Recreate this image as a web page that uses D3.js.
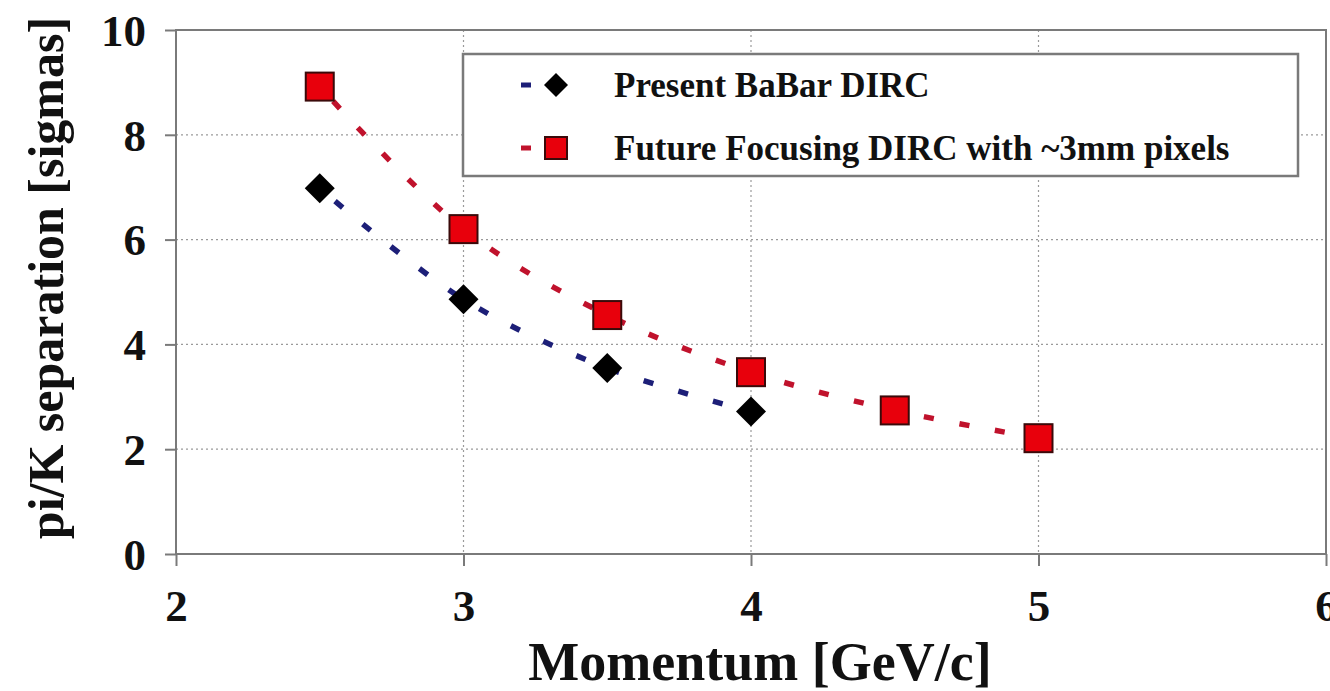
<!DOCTYPE html>
<html>
<head>
<meta charset="utf-8">
<script src="https://cdn.jsdelivr.net/npm/d3@7"></script>
<style>
  html, body { margin: 0; padding: 0; background: #fff; }
  svg { display: block; }
  text { font-family: "Liberation Serif", "Times New Roman", serif; font-weight: bold; fill: #111; }
</style>
</head>
<body>
<svg id="chart" width="1330" height="691"></svg>
<script>
// Momentum points (GeV/c) and pi/K separation (sigmas)
const presentMomentum = [2.5, 3, 3.5, 4];
const presentSeparation = [6.98, 4.86, 3.55, 2.72];
const futureMomentum = [2.5, 3, 3.5, 4, 4.5, 5];
const futureSeparation = [8.92, 6.2, 4.56, 3.47, 2.74, 2.21];

const xTicks = [2, 3, 4, 5, 6];
const yTicks = [0, 2, 4, 6, 8, 10];
const seriesNames = ["Present BaBar DIRC", "Future Focusing DIRC with ~3mm pixels"];

const svg = d3.select("#chart");
const plotLeft = 176, plotRight = 1326, plotTop = 30, plotBottom = 554;

const x = d3.scaleLinear().domain([2, 6]).range([plotLeft, plotRight]);
const y = d3.scaleLinear().domain([0, 10]).range([plotBottom, plotTop]);

// dotted grid
svg.append("g").selectAll("line")
  .data(yTicks.filter(d => d > 0 && d < 10)).join("line")
  .attr("x1", plotLeft).attr("x2", plotRight)
  .attr("y1", d => y(d)).attr("y2", d => y(d))
  .attr("stroke", "#9a9a9a").attr("stroke-width", 1.2)
  .attr("stroke-dasharray", "2 3");
svg.append("g").selectAll("line")
  .data(xTicks.filter(d => d > 2 && d < 6)).join("line")
  .attr("x1", d => x(d)).attr("x2", d => x(d))
  .attr("y1", plotTop).attr("y2", plotBottom)
  .attr("stroke", "#9a9a9a").attr("stroke-width", 1.2)
  .attr("stroke-dasharray", "2 3");

// plot frame
svg.append("rect")
  .attr("x", plotLeft).attr("y", plotTop)
  .attr("width", plotRight - plotLeft).attr("height", plotBottom - plotTop)
  .attr("fill", "none").attr("stroke", "#7a7a7a").attr("stroke-width", 2);

// axes
const yAxis = d3.axisLeft(y).tickValues(yTicks).tickSize(11).tickPadding(19).tickFormat(d3.format("d"));
const xAxis = d3.axisBottom(x).tickValues(xTicks).tickSize(12).tickPadding(24).tickFormat(d3.format("d"));

const gy = svg.append("g").attr("transform", `translate(${plotLeft},0)`).call(yAxis);
const gx = svg.append("g").attr("transform", `translate(0,${plotBottom})`).call(xAxis);
[gx, gy].forEach(g => {
  g.select(".domain").remove();
  g.selectAll(".tick line").attr("stroke", "#7a7a7a").attr("stroke-width", 2);
  g.selectAll(".tick text").style("font-size", "45px").attr("fill", "#111")
    .style("font-family", "'Liberation Serif', 'Times New Roman', serif").style("font-weight", "bold");
});
gy.selectAll(".tick text").attr("dy", "0.34em");
gx.selectAll(".tick text").attr("dy", "0.68em");

// axis titles
svg.append("text")
  .attr("x", 760).attr("y", 680)
  .attr("text-anchor", "middle")
  .style("font-size", "54px")
  .text("Momentum [GeV/c]");
svg.append("text")
  .attr("transform", "translate(63,278) rotate(-90)")
  .attr("text-anchor", "middle")
  .style("font-size", "50px")
  .text("pi/K separation [sigmas]");

// smoothed dashed trend curves
const line = d3.line().x(d => x(d[0])).y(d => y(d[1])).curve(d3.curveCatmullRom.alpha(0.5));
const presentPts = presentMomentum.map((m, i) => [m, presentSeparation[i]]);
const futurePts = futureMomentum.map((m, i) => [m, futureSeparation[i]]);

svg.append("path").datum(presentPts).attr("d", line)
  .attr("fill", "none").attr("stroke", "#1d1f78").attr("stroke-width", 5.5)
  .attr("stroke-dasharray", "10 26").attr("stroke-dashoffset", -20);
svg.append("path").datum(futurePts).attr("d", line)
  .attr("fill", "none").attr("stroke", "#c0122c").attr("stroke-width", 5.5)
  .attr("stroke-dasharray", "10 26").attr("stroke-dashoffset", -20);

// markers
const diamond = s => `M0,${-s}L${s},0L0,${s}L${-s},0Z`;
svg.append("g").selectAll("path")
  .data(presentPts).join("path")
  .attr("transform", d => `translate(${x(d[0])},${y(d[1])})`)
  .attr("d", diamond(15))
  .attr("fill", "#000");
svg.append("g").selectAll("rect")
  .data(futurePts).join("rect")
  .attr("x", d => x(d[0]) - 14).attr("y", d => y(d[1]) - 14)
  .attr("width", 28).attr("height", 28)
  .attr("fill", "#e8000c").attr("stroke", "#3a0a0a").attr("stroke-width", 2);

// legend
const lg = svg.append("g");
lg.append("rect")
  .attr("x", 463).attr("y", 54).attr("width", 835).attr("height", 122)
  .attr("fill", "#fff").attr("stroke", "#7a7a7a").attr("stroke-width", 2.5);
const rows = [
  { name: seriesNames[0], color: "#1d1f78", cy: 85, shape: "diamond" },
  { name: seriesNames[1], color: "#c0122c", cy: 148, shape: "square" }
];
rows.forEach(r => {
  lg.append("line").attr("x1", 521).attr("x2", 531).attr("y1", r.cy).attr("y2", r.cy)
    .attr("stroke", r.color).attr("stroke-width", 5);
  if (r.shape === "diamond") {
    lg.append("path").attr("transform", `translate(556,${r.cy})`).attr("d", diamond(12)).attr("fill", "#000");
  } else {
    lg.append("rect").attr("x", 545).attr("y", r.cy - 11).attr("width", 22).attr("height", 22)
      .attr("fill", "#e8000c").attr("stroke", "#3a0a0a").attr("stroke-width", 2);
  }
  lg.append("text").attr("x", 614).attr("y", r.cy + 12)
    .style("font-size", "35px").text(r.name);
});
</script>
</body>
</html>
